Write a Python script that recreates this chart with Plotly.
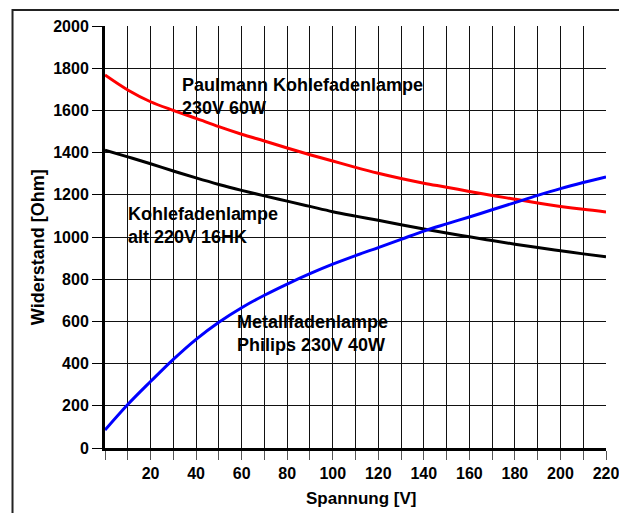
import plotly.graph_objects as go

spannung = [0, 10, 20, 30, 40, 50, 60, 70, 80, 90, 100, 110, 120, 130, 140, 150, 160, 170, 180, 190, 200, 210, 220]
paulmann = [1768, 1697, 1641, 1600, 1562, 1523, 1487, 1455, 1422, 1390, 1360, 1330, 1302, 1277, 1255, 1236, 1216, 1197, 1179, 1161, 1145, 1131, 1119]
kohle_alt = [1412, 1380, 1347, 1313, 1280, 1249, 1221, 1195, 1170, 1145, 1120, 1099, 1079, 1058, 1038, 1019, 1001, 983, 966, 950, 935, 920, 906]
metall = [85, 206, 315, 420, 515, 596, 665, 724, 777, 826, 871, 912, 950, 989, 1028, 1062, 1095, 1129, 1163, 1197, 1229, 1258, 1285]

x_ticks = [20, 40, 60, 80, 100, 120, 140, 160, 180, 200, 220]
y_ticks = [0, 200, 400, 600, 800, 1000, 1200, 1400, 1600, 1800, 2000]

FONT = "Liberation Sans, Arial, sans-serif"
OFF = 8  # page body margin

fig = go.Figure()
fig.add_trace(go.Scatter(x=spannung, y=paulmann, mode="lines",
                         line=dict(color="#ff0000", width=3, shape="spline")))
fig.add_trace(go.Scatter(x=spannung, y=kohle_alt, mode="lines",
                         line=dict(color="#000000", width=3, shape="spline")))
fig.add_trace(go.Scatter(x=spannung, y=metall, mode="lines",
                         line=dict(color="#0000ff", width=3, shape="spline")))

ann_font = dict(family=FONT, size=18, color="black", weight="bold")
fig.add_annotation(x=33.1, y=1668, xref="x", yref="y", xanchor="left", yanchor="middle",
                   text="Paulmann Kohlefadenlampe<br>230V 60W", showarrow=False, align="left", font=ann_font)
fig.add_annotation(x=9.0, y=1056, xref="x", yref="y", xanchor="left", yanchor="middle",
                   text="Kohlefadenlampe<br>alt 220V 16HK", showarrow=False, align="left", font=ann_font)
fig.add_annotation(x=57.3, y=544, xref="x", yref="y", xanchor="left", yanchor="middle",
                   text="Metallfadenlampe<br>Philips 230V 40W", showarrow=False, align="left", font=ann_font)

# axis titles
title_font = dict(family=FONT, size=18, color="black", weight="bold")
fig.add_annotation(x=-0.1337, y=0.476, xref="paper", yref="paper", xanchor="center", yanchor="middle",
                   text="Widerstand [Ohm]", textangle=-90, showarrow=False, font=title_font)
fig.add_annotation(x=0.51, y=-0.119, xref="paper", yref="paper", xanchor="center", yanchor="middle",
                   text="Spannung [V]", showarrow=False, font=dict(family=FONT, size=17, color="black", weight="bold"))

# outer frame
fig.add_shape(type="rect", xref="paper", yref="paper", x0=-0.1846, x1=1.0385, y0=-0.3, y1=1.038,
              line=dict(color="#222222", width=2), fillcolor="rgba(0,0,0,0)", layer="above")

tick_font = dict(family=FONT, size=16, color="black", weight="bold")

fig.update_layout(
    width=627 - OFF, height=513 - OFF,
    margin=dict(l=104.5 - OFF, r=21.3, t=26 - OFF, b=65.3),
    paper_bgcolor="white", plot_bgcolor="white",
    showlegend=False,
    font=dict(family=FONT, size=16, color="black"),
    xaxis=dict(
        range=[0, 220], tickvals=x_ticks, ticktext=[str(v) for v in x_ticks],
        ticks="outside", ticklen=9, tickcolor="#555555", tickwidth=1,
        showgrid=True, gridcolor="#111111", gridwidth=1,
        showline=True, linecolor="black", linewidth=3, zeroline=False,
        minor=dict(dtick=10, tick0=0, ticks="outside", ticklen=9, tickcolor="#555555",
                   showgrid=True, gridcolor="#111111", gridwidth=1),
        tickfont=tick_font,
        automargin=False,
    ),
    yaxis=dict(
        range=[0, 2000], tickvals=y_ticks,
        ticks="outside", ticklen=10, tickcolor="black", tickwidth=1,
        showgrid=True, gridcolor="#111111", gridwidth=1,
        showline=True, linecolor="black", linewidth=3, zeroline=False,
        tickfont=tick_font,
        automargin=False,
    ),
)

fig.write_html("out.html")
